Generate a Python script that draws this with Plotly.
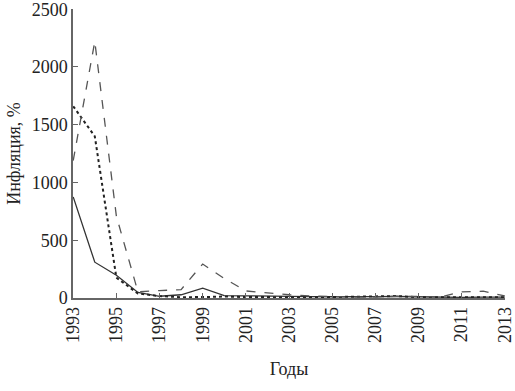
import plotly.graph_objects as go

years = list(range(1993, 2014))
solid_vals = [875, 310, 197, 48, 15, 28, 86, 21, 19, 15, 12, 12, 11, 9, 12, 13, 9, 9, 6, 7, 7]
dotted_vals = [1660, 1400, 176, 39, 17, 7, 8, 13, 8, 6, 6, 7, 8, 9, 11, 17, 7, 7, 8, 5, 6]
dashed_vals = [1190, 2221, 709, 53, 64, 73, 294, 169, 61, 43, 28, 18, 10, 7, 8, 15, 13, 8, 53, 59, 18]
x_ticks = list(range(1993, 2014, 2))
y_ticks = [0, 500, 1000, 1500, 2000, 2500]

font = dict(family="Liberation Serif, Times New Roman, serif", size=18, color="#222")

fig = go.Figure()
fig.add_trace(go.Scatter(x=years, y=solid_vals, mode="lines",
                         line=dict(color="#333333", width=1.3, dash="solid")))
fig.add_trace(go.Scatter(x=years, y=dotted_vals, mode="lines",
                         line=dict(color="#222222", width=2, dash="dot")))
fig.add_trace(go.Scatter(x=years, y=dashed_vals, mode="lines",
                         line=dict(color="#555555", width=1.3, dash="dash")))

fig.update_layout(
    width=515, height=391,
    margin=dict(l=73, r=10, t=9, b=93),
    plot_bgcolor="white", paper_bgcolor="white",
    showlegend=False, font=font,
)
fig.update_xaxes(range=[1992.99, 2013.01], tickvals=x_ticks, ticktext=[str(v) for v in x_ticks],
                 tickangle=-90, showgrid=False, zeroline=False, showline=True, automargin=False,
                 ticklabeloverflow="allow",
                 linecolor="#666", linewidth=1.5, ticks="inside", ticklen=5, tickcolor="#666",
                 title=dict(text="Годы", font=font, standoff=20))
fig.update_yaxes(range=[0, 2502], tickvals=y_ticks, showgrid=False, zeroline=False,
                 showline=True, linecolor="#666", linewidth=1.5, ticks="inside", automargin=False,
                 ticklabeloverflow="allow",
                 ticklen=5, tickcolor="#666",
                 title=dict(text="Инфляция, %", font=font, standoff=6))

fig.write_html("out.html", config={"displayModeBar": False},
               post_script="document.body.style.margin='0';document.body.style.overflow='hidden';")
